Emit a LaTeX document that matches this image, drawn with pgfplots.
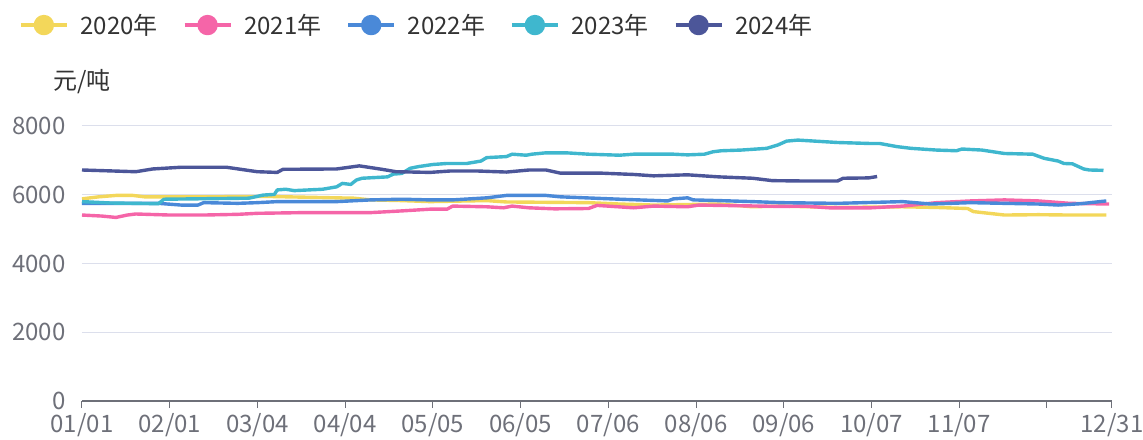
\documentclass[border=0pt]{standalone}
\usepackage{fontspec}
\setmainfont{Noto Sans CJK SC}
\usepackage{pgfplots}
\pgfplotsset{compat=1.18}

\definecolor{cA}{HTML}{F3D75A}
\definecolor{cB}{HTML}{F565A8}
\definecolor{cC}{HTML}{4A89D8}
\definecolor{cD}{HTML}{3FB7CE}
\definecolor{cE}{HTML}{4C5699}
\definecolor{axgray}{HTML}{6E7079}
\definecolor{gridc}{HTML}{DCDFEC}
\definecolor{txt}{HTML}{333333}

\begin{document}
\begin{tikzpicture}
\path[use as bounding box] (-82pt,-38pt) rectangle (1061pt,401pt);
\begin{axis}[
    at={(0pt,0pt)}, anchor=south west,
    scale only axis,
    width=1030pt, height=275pt,
    xmin=0, xmax=364, ymin=0, ymax=8000,
    axis x line*=bottom, axis y line*=left,
    y axis line style={draw=none},
    x axis line style={draw=axgray, line width=1.2pt},
    xtick={0,31,62,93,124,155,186,217,248,279,310,341,364},
    xticklabels={01/01,02/01,03/04,04/04,05/05,06/05,07/06,08/06,09/06,10/07,11/07,,12/31},
    ytick={0,2000,4000,6000,8000},
    /pgf/number format/1000 sep={},
    /pgf/number format/assume math mode=true,
    tick align=outside,
    major tick length=7pt,
    xtick style={draw=axgray, line width=1pt},
    ytick style={draw=none},
    ymajorgrids, grid style={draw=gridc, line width=1pt},
    tick label style={font=\fontsize{24}{26}\selectfont, text=axgray},
    yticklabel style={xshift=-6pt},
    xticklabel style={yshift=-2pt},
    legend columns=5,
    legend style={at={(axis description cs:-0.0641,1.367)}, anchor=west,
        draw=none, fill=none, font=\fontsize{24}{26}\selectfont, text=txt,
        /tikz/every odd column/.append style={column sep=10pt},
        /tikz/every even column/.append style={column sep=23pt}},
    legend image code/.code={\draw[line width=3.4pt] (0pt,0pt) -- (46pt,0pt);
        \fill (23pt,0pt) circle (8.5pt);},
    every axis plot/.append style={line width=3.4pt, line join=round, mark=none},
]
\addplot[cA] coordinates {
(0,5880)(6,5940)(12,5980)(18,5980)(22,5940)(43,5940)(66,5950)(90,5910)(96,5900)
(102,5850)(113,5830)(123,5800)(143,5830)(150,5790)(179,5770)(190,5730)(202,5700)
(225,5730)(237,5650)(247,5670)(267,5630)(290,5650)(302,5630)(313,5600)(315,5510)
(326,5410)(338,5420)(349,5410)(362,5410)
};
\addlegendentry{2020年}
\addplot[cB] coordinates {
(0,5410)(7,5380)(12,5340)(16,5410)(19,5440)(31,5410)(43,5410)(55,5430)(62,5460)
(78,5480)(90,5480)(102,5480)(113,5530)(123,5580)(129,5580)(131,5670)(143,5650)
(149,5620)(152,5670)(158,5620)(167,5590)(179,5600)(182,5690)(195,5620)(202,5670)
(214,5650)(218,5700)(247,5660)(255,5670)(264,5620)(279,5620)(290,5670)(302,5770)
(314,5820)(326,5850)(338,5820)(349,5750)(363,5730)
};
\addlegendentry{2021年}
\addplot[cC] coordinates {
(0,5750)(19,5750)(27,5750)(35,5700)(41,5700)(43,5770)(55,5750)(62,5770)(69,5800)
(90,5800)(102,5850)(113,5870)(123,5850)(131,5850)(143,5910)(150,5980)(164,5980)
(169,5940)(181,5900)(190,5870)(207,5820)(209,5880)(214,5910)(216,5850)(225,5830)
(237,5800)(247,5770)(267,5750)(290,5800)(300,5730)(314,5770)(338,5730)(345,5700)
(353,5740)(362,5820)
};
\addlegendentry{2022年}
\addplot[cD] coordinates {
(0,5800)(10,5760)(27,5740)(29,5870)(59,5900)(64,5990)(68,6010)(69,6140)(72,6160)
(75,6120)(85,6160)(90,6230)(92,6330)(95,6300)(97,6430)(99,6480)(108,6520)(110,6600)
(113,6620)(116,6770)(119,6820)(124,6880)(129,6910)(136,6910)(141,6980)(143,7080)
(150,7110)(152,7180)(157,7150)(159,7180)(164,7220)(171,7220)(179,7180)(190,7150)
(195,7180)(209,7180)(214,7160)(220,7180)(223,7250)(226,7280)(233,7300)(242,7350)
(246,7450)(249,7560)(253,7590)(267,7520)(279,7490)(282,7490)(288,7400)(293,7350)
(302,7300)(309,7280)(311,7330)(318,7300)(326,7200)(336,7180)(340,7060)(345,6980)
(347,6910)(350,6900)(354,6750)(356,6720)(361,6710)
};
\addlegendentry{2023年}
\addplot[cE] coordinates {
(0,6720)(19,6670)(25,6750)(35,6800)(51,6800)(62,6670)(69,6650)(71,6740)(90,6750)
(98,6840)(106,6740)(111,6670)(123,6650)(130,6690)(140,6690)(150,6660)(158,6720)
(164,6720)(169,6630)(183,6630)(195,6590)(202,6550)(214,6580)(225,6520)(237,6480)
(244,6410)(255,6400)(267,6400)(269,6480)(278,6490)(281,6530)
};
\addlegendentry{2024年}
\end{axis}
\node[text=txt, font=\fontsize{24}{26}\selectfont] at (0pt,319pt) {元/吨};
\end{tikzpicture}
\end{document}
